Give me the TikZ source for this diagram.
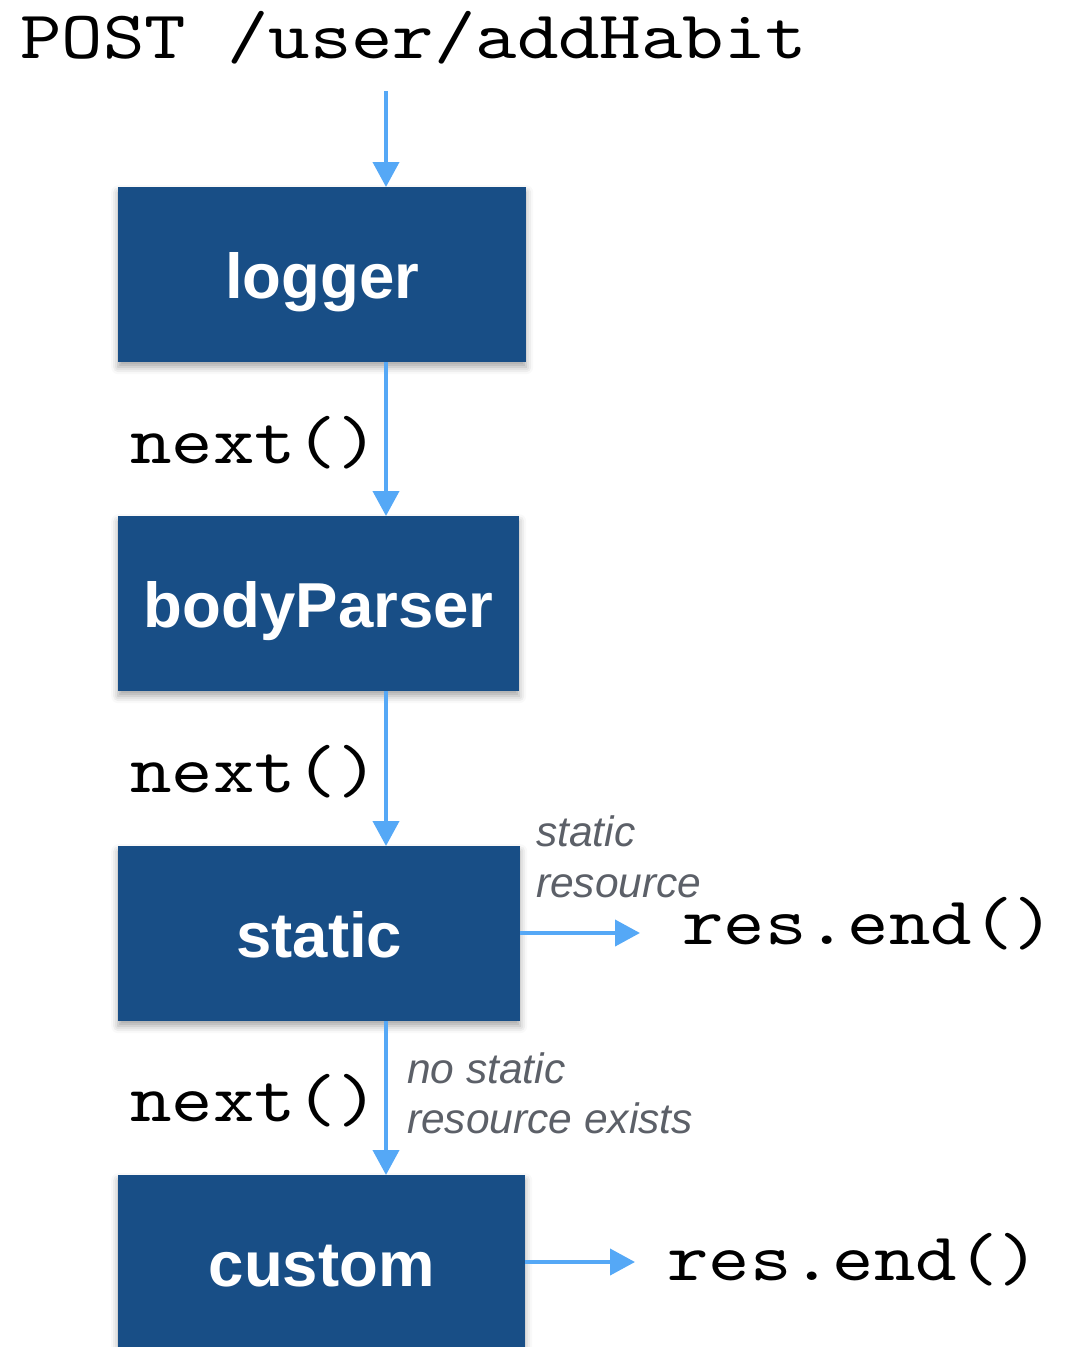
\documentclass[tikz,border=0pt]{standalone}
\usepackage{fontspec}
\setmainfont{Liberation Sans}
\newfontfamily\codefont{lmmono10-regular.otf}[FakeStretch=1.16]
\usetikzlibrary{arrows.meta,shadows.blur}
\definecolor{boxblue}{HTML}{184E86}
\definecolor{flowblue}{HTML}{55A8F6}
\definecolor{notegray}{HTML}{5C6068}
\tikzset{
  mw/.style={draw=none, fill=boxblue, text=white, inner sep=0pt, anchor=north west,
    minimum height=175pt, text height=111.5pt, text depth=63.5pt,
    font=\fontsize{63.5}{76}\selectfont\bfseries,
    blur shadow={shadow xshift=0pt, shadow yshift=-5pt, shadow blur radius=7pt, shadow opacity=35}},
  code/.style={inner sep=0pt, anchor=base west, font=\codefont\fontsize{68}{80}\selectfont},
  note/.style={inner sep=0pt, anchor=base west, text=notegray, align=left,
    font=\fontsize{42.5}{50}\selectfont\itshape},
  flow/.style={draw=flowblue, line width=4pt, -{Triangle[width=26pt,length=25pt]}}
}
\begin{document}
\begin{tikzpicture}[x=1pt,y=-1pt]
\useasboundingbox (0,0) rectangle (1066,1347);
\node[code] (post) at (20,58) {POST /user/addHabit};
\node[mw, minimum width=408pt] (logger) at (118,187) {logger};
\node[mw, minimum width=401pt] (body) at (118,516) {bodyParser};
\node[mw, minimum width=402pt] (static) at (118,846) {static};
\node[mw, minimum width=407pt] (custom) at (118,1175) {custom};
\coordinate (start) at (386,91);
\node[code] (n1) at (130,463) {next()};
\node[code] (n2) at (130,792) {next()};
\node[code] (n3) at (130,1121) {next()};
\node[code] (r1) at (682,944) {res.end()};
\node[code] (r2) at (667,1280) {res.end()};
\node[note] (s1) at (536,846) {static};
\node[note] (s2) at (536,897) {resource};
\node[note] (s3) at (407,1083) {no static};
\node[note] (s4) at (407,1133) {resource exists};
\draw[flow] (start) -- (start |- logger.north);
\draw[flow] (start |- logger.south) -- (start |- body.north);
\draw[flow] (start |- body.south) -- (start |- static.north);
\draw[flow] (start |- static.south) -- (start |- custom.north);
\coordinate (e1) at (640,933);
\coordinate (e2) at (635,1262);
\draw[flow] (static.east |- e1) -- (e1);
\draw[flow] (custom.east |- e2) -- (e2);
\end{tikzpicture}
\end{document}
